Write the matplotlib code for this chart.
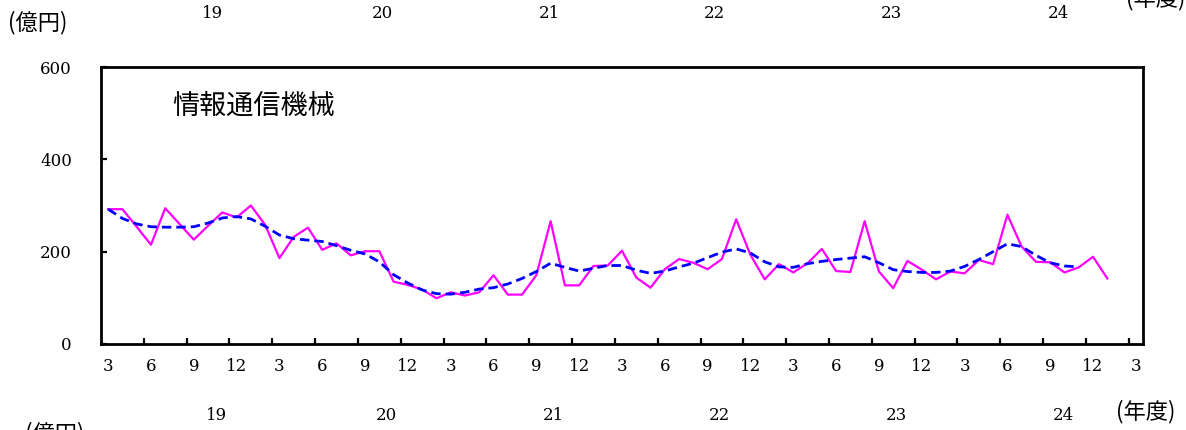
import numpy as np
import matplotlib
matplotlib.use('Agg')
import matplotlib.pyplot as plt
from matplotlib.ticker import FixedLocator
from matplotlib.transforms import blended_transform_factory

plt.rcParams['font.family'] = ['DejaVu Serif', 'Noto Sans CJK JP']

# ============================================================
# DONNÉES (lecture du graphique, 億円)
# ============================================================
actual = [292, 292, 254, 215, 294, 260, 226, 256, 285, 274, 300, 258,
          186, 232, 252, 204, 218, 192, 201, 201, 135, 128, 118, 99,
          112, 105, 112, 149, 107, 107, 149, 266, 127, 127, 169, 170,
          202, 144, 122, 162, 184, 176, 162, 184, 270, 193, 140, 173,
          155, 175, 206, 158, 156, 266, 157, 121, 180, 161, 140, 157,
          153, 182, 173, 280, 211, 178, 177, 155, 166, 189, 142]

trend = [292, 272, 260, 254, 253, 253, 254, 262, 273, 276, 271, 255,
         236, 228, 225, 222, 213, 203, 195, 178, 150, 132, 117, 109,
         108, 112, 119, 122, 130, 142, 157, 175, 166, 158, 164, 170,
         170, 160, 153, 158, 167, 175, 187, 199, 206, 197, 178, 167,
         166, 174, 179, 183, 186, 189, 176, 161, 157, 155, 155, 158,
         168, 183, 200, 217, 211, 192, 176, 169, 167]

month_labels = ['3', '6', '9', '12'] * 6 + ['3']
year_labels = ['19', '20', '21', '22', '23', '24']
year_pos = [7.6, 19.5, 31.2, 42.8, 55.2, 66.9]
y_ticks = [0, 200, 400, 600]
title = '情報通信機械'

# ============================================================
# FIGURE
# ============================================================
W, H = 1186, 430
fig = plt.figure(figsize=(W / 100, H / 100), dpi=100)
ax = fig.add_axes([101 / W, 1 - 344 / H, (1143 - 101) / W, (344 - 67) / H])

ax.plot(range(len(actual)), actual, color='#FF00FF', linewidth=1.6, zorder=3)
ax.plot(range(len(trend)), trend, color='#0000FF', linewidth=2.0,
        dashes=(3.4, 1.8), zorder=4)

ax.set_xlim(-0.5, 72.5)
ax.set_ylim(0, 600)

# axe x : étiquettes sur les mois, graduations entre les catégories
ax.xaxis.set_major_locator(FixedLocator(np.arange(0, 73, 3)))
ax.set_xticklabels(month_labels)
ax.xaxis.set_minor_locator(FixedLocator(np.arange(2.5, 72, 3)))
ax.tick_params(axis='x', which='major', length=0, pad=10, labelsize=12)
ax.tick_params(axis='x', which='minor', direction='in', length=4.5, width=1.6)

ax.set_yticks(y_ticks)
ax.tick_params(axis='y', direction='in', length=4.5, width=1.6, pad=21,
               labelsize=12)

for s in ax.spines.values():
    s.set_linewidth(2.0)

ax.text(0.068, 0.86, title, transform=ax.transAxes, fontsize=19.5,
        family=['Noto Sans CJK JP'], va='center', ha='left')

# étiquettes des années (bas) et celles du graphique précédent (haut)
tr = blended_transform_factory(ax.transData, fig.transFigure)
for lab, p in zip(year_labels, year_pos):
    ax.text(p, 1 - 416 / H, lab, transform=tr, ha='center', va='center',
            fontsize=12, clip_on=False)
    ax.text(p - 0.3, 1 - 13 / H, lab, transform=tr, ha='center', va='center',
            fontsize=12, clip_on=False)

fig.text(8 / W, 1 - 23 / H, '(億円)', ha='left', va='center', fontsize=16,
         family=['Noto Sans CJK JP'])
fig.text(1116 / W, 1 - 412 / H, '(年度)', ha='left', va='center', fontsize=16,
         family=['Noto Sans CJK JP'])
# morceaux coupés des graphiques voisins
fig.text(1126 / W, 1 - (-1) / H, '(年度)', ha='left', va='center', fontsize=16,
         family=['Noto Sans CJK JP'])
fig.text(25 / W, 1 - 434 / H, '(億円)', ha='left', va='center', fontsize=16,
         family=['Noto Sans CJK JP'])

fig.savefig('out.png', dpi=100)
